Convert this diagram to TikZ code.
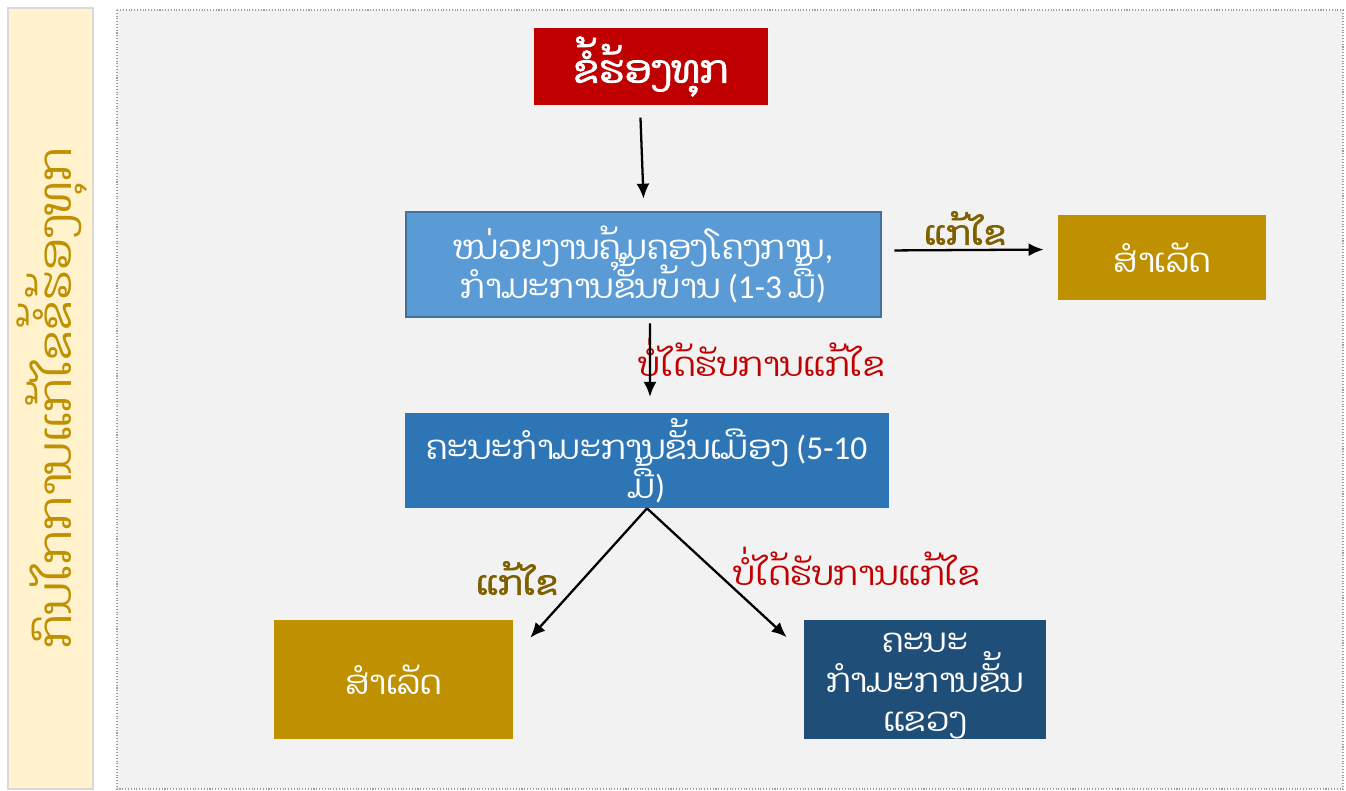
\documentclass[tikz,border=0pt]{standalone}
\usepackage{fontspec}
\setmainfont{Carlito}
\newfontfamily\lao[Script=Lao]{Dhyana}
\newfontfamily\laobf[Script=Lao,FakeBold=2]{Dhyana}
\usetikzlibrary{arrows,arrows.meta,positioning,calc}
\definecolor{sidefill}{HTML}{FFF2CC}
\definecolor{sidetext}{HTML}{BF9000}
\definecolor{redbox}{HTML}{C00000}
\definecolor{unitblue}{HTML}{5B9BD5}
\definecolor{unitline}{HTML}{41719C}
\definecolor{countyblue}{HTML}{2E75B6}
\definecolor{provblue}{HTML}{1F4E79}
\definecolor{goldbox}{HTML}{BF9000}
\definecolor{fixtext}{HTML}{7F6000}
\definecolor{nofixtext}{HTML}{C00000}
\lineskiplimit=-30pt
\begin{document}
\begin{tikzpicture}[
    x=0.02cm, y=-0.02cm,
    box/.style = {rectangle, inner sep=0pt, align=center, text=white, font=\fontsize{19}{22}\selectfont},
    arr/.style = {-{Latex[length=0.3cm,width=0.26cm]}, line width=1.3pt, black},
    fixlabel/.style = {text=fixtext, font=\laobf\fontsize{19}{23}\selectfont},
    nofixlabel/.style = {text=nofixtext, font=\lao\fontsize{19}{23}\selectfont}
]
    \useasboundingbox (0,0) rectangle (1346,791);
    \draw[line width=1.2pt, draw=gray!30, fill=sidefill] (8,8) rectangle (93,789);
    \node[rotate=90, text=sidetext, font=\lao\fontsize{26}{30}\selectfont] (side) at (52,398) {ກົນໄກການແກ້ໄຂຂໍ້ຮ້ອງທຸກ};
    \draw[densely dotted, draw=gray!75, line width=0.6pt, fill=black!5] (117,10) rectangle (1343,789);
    \node[box, fill=redbox, minimum width=4.68cm, minimum height=1.54cm, font=\laobf\fontsize{22}{26}\selectfont] (top) at (651,66.5) {ຂໍ້ຮ້ອງທຸກ};
    \node[box, fill=unitblue, draw=unitline, line width=1.2pt, minimum width=9.5cm, minimum height=2.1cm] (unit) at (643.5,264.5) {{\lao ໜ່ວຍງານຄຸ້ມຄອງໂຄງການ},\\{\lao ກຳມະການຂັ້ນບ້ານ} (1-3 {\lao ມື້})};
    \node[box, fill=goldbox, minimum width=4.16cm, minimum height=1.7cm] (done1) at (1162,257.5) {\lao ສຳເລັດ};
    \node[box, fill=countyblue, minimum width=9.68cm, minimum height=1.9cm] (county) at (647,460.5) {{\lao ຄະນະກຳມະການຂັ້ນເມືອງ} (5-10\\{\lao ມື້})};
    \node[box, fill=goldbox, minimum width=4.78cm, minimum height=2.38cm] (done2) at (393.5,679.5) {\lao ສຳເລັດ};
    \node[box, fill=provblue, minimum width=4.84cm, minimum height=2.38cm, font=\lao\fontsize{19}{22.5}\selectfont] (prov) at (925,679.5) {\rule{0pt}{19pt}ຄະນະ\\ກຳມະການຂັ້ນ\\ແຂວງ};
    \node[fixlabel] (fix1) at (965,228) {ແກ້ໄຂ};
    \node[nofixlabel] (nofix1) at (762,357) {ບໍ່ໄດ້ຮັບການແກ້ໄຂ};
    \node[fixlabel] (fix2) at (517,578) {ແກ້ໄຂ};
    \node[nofixlabel] (nofix2) at (857,566) {ບໍ່ໄດ້ຮັບການແກ້ໄຂ};
    \draw[arr, shorten <=7pt, shorten >=7pt] ([xshift=-0.22cm]top.south) -- ([xshift=0.01cm]unit.north);
    \draw[arr, shorten <=7pt, shorten >=8pt] ([yshift=0.28cm]unit.east) -- ([yshift=0.16cm]done1.west);
    \draw[arr, shorten <=3pt, shorten >=9pt] ([xshift=0.13cm]unit.south) -- ([xshift=0.06cm]county.north);
    \draw[arr] (county.south) -- ([xshift=0.34cm, yshift=-0.36cm]done2.north east);
    \draw[arr] (county.south) -- ([xshift=-0.34cm, yshift=-0.36cm]prov.north west);
\end{tikzpicture}
\end{document}
